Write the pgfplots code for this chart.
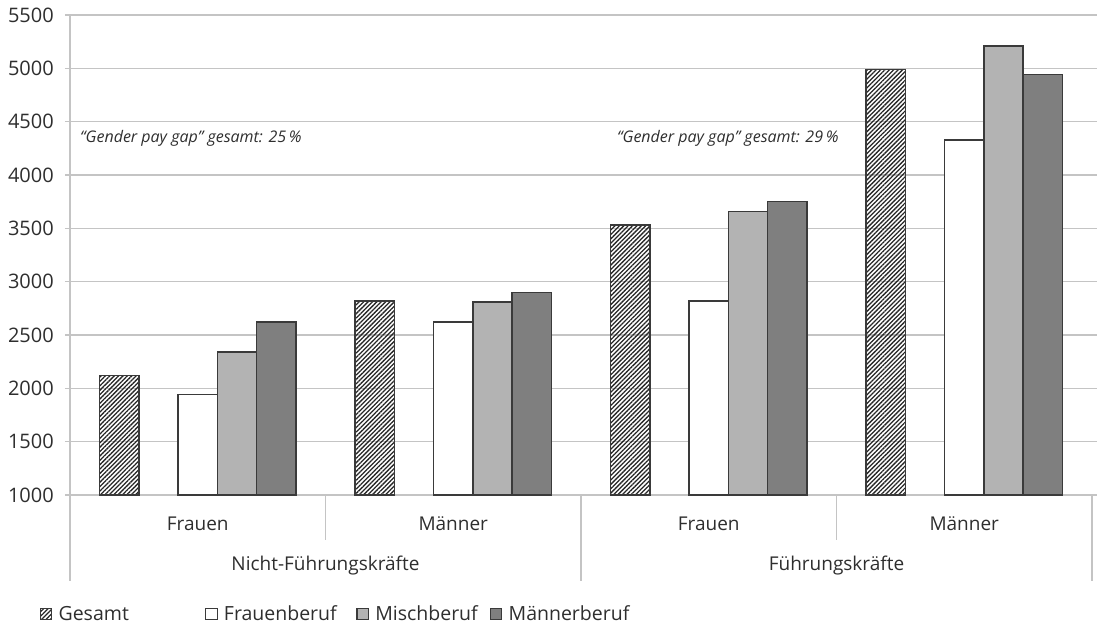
\documentclass[border=0pt]{standalone}
\usepackage{pgfplots}
\pgfplotsset{compat=1.18}
\usepackage{pgfplotstable}
\usepackage{fontspec}
\setmainfont{Open Sans}
\usetikzlibrary{patterns.meta}
\definecolor{txt}{HTML}{2E2E2E}
\definecolor{gridc}{HTML}{C4C4C4}
\definecolor{edge}{HTML}{3A3A3A}
\definecolor{misch}{HTML}{B3B3B3}
\definecolor{maenner}{HTML}{7F7F7F}

\pgfplotstableread{
x gesamt frauen misch maenner
0.5 2120 1940 2340 2620
1.5 2820 2620 2810 2900
2.5 3530 2820 3660 3750
3.5 4990 4330 5210 4940
}\data

\begin{document}
\begin{tikzpicture}[font=\fontsize{19}{23}\selectfont, text=txt]
\path[use as bounding box] (-70pt,-131pt) rectangle (1027pt,495pt);
\begin{axis}[
  at={(0pt,0pt)}, anchor=south west,
  scale only axis, width=1022pt, height=480pt,
  xmin=0, xmax=4, ymin=1000, ymax=5500,
  ybar, bar width=0.1535,
  ytick={1000,1500,...,5500},
  ymajorgrids, grid style={gridc, line width=1.5pt},
  axis line style={draw=none},
  xtick={0.5,1.5,2.5,3.5},
  xticklabels={Frauen,Männer,Frauen,Männer},
  xtick style={draw=none},
  ytick style={gridc, line width=1.5pt},
  tick align=outside, major tick length=5pt,
  yticklabel style={anchor=east, inner sep=0pt, xshift=-11pt, text=txt, font=\fontsize{20}{24}\selectfont},
  xticklabel style={anchor=base, inner sep=0pt, yshift=-30pt, text=txt},
  /pgf/number format/1000 sep={},
  /pgf/number format/assume math mode=true,
  clip mode=individual,
  legend columns=4,
  legend style={at={(-0.0298,-0.2479)}, anchor=west, draw=none, fill=none,
    inner sep=0pt, column sep=0pt, font=\fontsize{19.5}{23}\selectfont, nodes={inner sep=0pt, text=txt}},
  legend image code/.code={\draw[#1, line width=1.2pt] (0pt,-5.75pt) rectangle (11.5pt,5.75pt); \path (17.5pt,0pt);},
]
\addplot[bar shift=-0.307, draw=edge, line width=1.5pt,
  pattern={Lines[angle=45,distance=3.1pt,line width=1.3pt]}, pattern color=black!85]
  table[x=x,y=gesamt]{\data};
\addplot[bar shift=0, draw=edge, line width=1.5pt, fill=white] table[x=x,y=frauen]{\data};
\addplot[bar shift=0.1535, draw=edge, line width=1.5pt, fill=misch] table[x=x,y=misch]{\data};
\addplot[bar shift=0.307, draw=edge, line width=1.5pt, fill=maenner] table[x=x,y=maenner]{\data};
\legend{\makebox[146.5pt][l]{Gesamt},\makebox[132.5pt][l]{Frauenberuf},\makebox[114.5pt][l]{Mischberuf},Männerberuf}

\draw[gridc, line width=1.5pt] (axis cs:0,5500) -- (axis cs:0,1000) -- ++(0pt,-86pt);
\draw[gridc, line width=1.5pt] (axis cs:2,1000) -- ++(0pt,-86pt);
\draw[gridc, line width=1.5pt] (axis cs:4,1000) -- ++(0pt,-86pt);
\draw[gridc, line width=1.5pt] (axis cs:1,1000) -- ++(0pt,-45pt);
\draw[gridc, line width=1.5pt] (axis cs:3,1000) -- ++(0pt,-45pt);
\node[anchor=base, yshift=-75.5pt] at (axis cs:1,1000) {Nicht-Führungskräfte};
\node[anchor=base, yshift=-75.5pt] at (axis cs:3,1000) {Führungskräfte};
\node[anchor=base west, inner sep=0pt, font=\fontsize{16}{19}\selectfont\itshape] at (axis cs:0.039,4306) {“Gender pay gap” gesamt: 25\,\%};
\node[anchor=base west, inner sep=0pt, font=\fontsize{16}{19}\selectfont\itshape] at (axis cs:2.1406,4306) {“Gender pay gap” gesamt: 29\,\%};
\end{axis}
\end{tikzpicture}
\end{document}
